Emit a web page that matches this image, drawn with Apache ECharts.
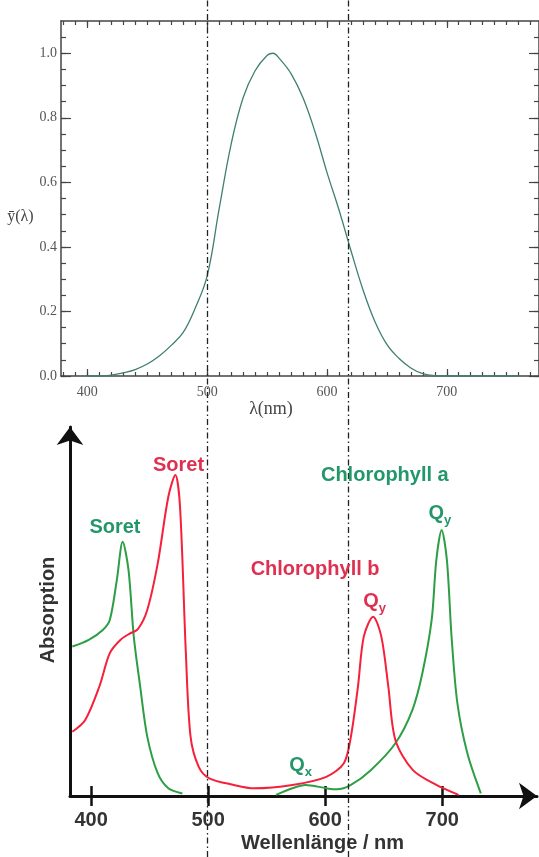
<!DOCTYPE html>
<html>
<head>
<meta charset="utf-8">
<script src="https://cdn.jsdelivr.net/npm/echarts@6/dist/echarts.min.js"></script>
<style>
  html, body { margin: 0; padding: 0; background: #fff; }
  #chart { width: 539px; height: 857px; }
</style>
</head>
<body>
<div id="chart"></div>
<script>
// Hellempfindlichkeitskurve (oben)
var lumWavelength = [400, 410, 420, 430, 440, 450, 460, 470, 480, 490, 500, 510, 520, 530, 540, 550, 555, 560, 570, 580, 590, 600, 610, 620, 630, 640, 650, 660, 670, 680, 690, 700, 720, 740, 760];
var lumValue = [0, 0, 0.003, 0.01, 0.02, 0.037, 0.062, 0.095, 0.135, 0.21, 0.31, 0.518, 0.718, 0.862, 0.946, 0.993, 1.0, 0.985, 0.937, 0.862, 0.757, 0.631, 0.515, 0.389, 0.268, 0.169, 0.098, 0.055, 0.025, 0.007, 0.001, 0, 0, 0, 0];

// Absorptionsspektren (unten)
var chlAWavelength = [384, 398, 410, 416, 422, 427, 432, 436.5, 442, 448, 457, 466, 478, 520, 558, 572, 583, 601, 610, 622, 639, 660, 674.5, 683, 691, 695, 699.5, 704, 708, 713, 721.5, 733];
var chlAAbs = [40.5, 42.3, 45, 47.7, 58.5, 68.9, 61.2, 43.2, 29.6, 16.1, 6.1, 2.1, 0.7, null, 0.3, 2.1, 3, 2.1, 1.8, 3, 7, 14.3, 23.3, 33.2, 47.7, 64, 72.1, 64, 43.2, 25.1, 11.6, 0.7];
var chlBWavelength = [384, 395, 407, 416, 425, 433, 440, 448, 457, 466, 472, 476, 481, 485, 492, 501, 522, 539, 572, 601, 616, 622, 628, 633, 641, 648, 654, 660, 675, 695, 714];
var chlBAbs = [17.4, 20.6, 29.6, 38.7, 42.3, 44, 45.2, 50.4, 63.1, 81.1, 87, 78.4, 38.7, 16.1, 7.9, 4.8, 3, 2.1, 3, 5.2, 8.9, 16.1, 29.6, 43.2, 48.6, 43.2, 29.6, 15.2, 7, 3, 0.3];

// Achsen
var topTickLabels = [400, 500, 600, 700];
var topYTickLabels = [0, 0.2, 0.4, 0.6, 0.8, 1.0];
var bottomTickLabels = [400, 500, 600, 700];
var markWavelengths = [500, 618];

var SERIF = '"Liberation Serif", "DejaVu Serif", serif';
var SANS = '"Liberation Sans", Arial, sans-serif';
var GREEN_LINE = '#2c9e44';
var RED_LINE = '#f5203a';
var GREEN_TEXT = '#23976a';
var RED_TEXT = '#de3152';

function pairs(xs, ys) {
	return xs.map(function (x, i) { return [x, ys[i] === null ? '-' : ys[i]]; });
}

// Nebenstriche
var minorX = [];
for (var v = 380; v <= 770; v += 10) minorX.push(v);
var minorY = [];
for (var k = 0; k <= 21; k++) minorY.push(+(k * 0.05).toFixed(2));

// grid 0 = Hauptstriche, grid 3 = Nebenstriche (gleiche Lage)
function frameX(grid, pos, major, withLabels) {
	return {
		gridIndex: grid, type: 'value', position: pos, min: 378, max: 777,
		axisLine: { show: major, onZero: false, lineStyle: { color: '#444', width: 1.5 } },
		axisTick: { show: true, inside: true, length: major ? 7 : 4, customValues: major ? topTickLabels : minorX, lineStyle: { color: '#444', width: 1.2 } },
		axisLabel: withLabels ? { show: true, customValues: topTickLabels, fontFamily: SERIF, fontSize: 14, color: '#555', margin: 9 } : { show: false },
		splitLine: { show: false }
	};
}
function frameY(grid, pos, major, withLabels) {
	return {
		gridIndex: grid, type: 'value', position: pos, min: 0, max: 1.1,
		axisLine: { show: major, onZero: false, lineStyle: { color: '#444', width: 1.5 } },
		axisTick: { show: true, inside: true, length: major ? 10 : 5, customValues: major ? topYTickLabels : minorY, lineStyle: { color: '#444', width: 1.2 } },
		axisLabel: withLabels ? { show: true, customValues: topYTickLabels, fontFamily: SERIF, fontSize: 14, color: '#555', margin: 4, formatter: function (v) { return v.toFixed(1); } } : { show: false },
		splitLine: { show: false }
	};
}

var xTopMain = frameX(0, 'bottom', true, true);
xTopMain.name = 'λ(nm)';
xTopMain.nameLocation = 'middle';
xTopMain.nameGap = 18;
xTopMain.nameTextStyle = { fontFamily: SERIF, fontSize: 18, color: '#444', padding: [0, 58, 0, 0] };

var yTopMain = frameY(0, 'left', true, true);
yTopMain.name = 'ȳ(λ)';
yTopMain.nameLocation = 'middle';
yTopMain.nameRotate = 0;
yTopMain.nameGap = 19;
yTopMain.nameTextStyle = { fontFamily: SERIF, fontSize: 16, color: '#444', verticalAlign: 'top', padding: [10, 0, 0, 0] };

function note(x, y, text, color) {
	return { coord: [x, y], label: { formatter: text, color: color } };
}
var qRich = {
	q: { fontFamily: SANS, fontWeight: 'bold', fontSize: 20, lineHeight: 24 },
	s: { fontFamily: SANS, fontWeight: 'bold', fontSize: 13, padding: [14, 0, 0, 0], lineHeight: 24 }
};
function notes(items, color) {
	return {
		symbol: 'rect', symbolSize: 1, silent: true,
		itemStyle: { color: 'rgba(0,0,0,0)' },
		label: { show: true, position: 'inside', fontFamily: SANS, fontWeight: 'bold', fontSize: 20, color: color, rich: qRich },
		data: items
	};
}

var bottomGridPos = { left: 70, right: 2, top: 427, bottom: 61 };
var topGridPos = { left: 61, right: -1, top: 21, bottom: 481 };

var myChart = echarts.init(document.getElementById('chart'), null, { renderer: 'canvas' });
var option = {
	animation: false,
	backgroundColor: '#fff',
	grid: [
		topGridPos,
		bottomGridPos,
		{ left: 61, right: -1, top: 0, bottom: 0 },
		topGridPos,
		bottomGridPos
	],
	xAxis: [
		xTopMain,
		frameX(3, 'bottom', false, false),
		frameX(0, 'top', true, false),
		frameX(3, 'top', false, false),
		{
			gridIndex: 1, type: 'value', position: 'bottom', min: 382, max: 781,
			axisLine: { show: true, onZero: false, symbol: ['none', 'arrow'], symbolSize: [20, 18], lineStyle: { color: '#111', width: 3 } },
			axisTick: { show: true, inside: false, length: 10, customValues: bottomTickLabels, lineStyle: { color: '#111', width: 2.5 } },
			axisLabel: { show: true, customValues: bottomTickLabels, fontFamily: SANS, fontWeight: 'bold', fontSize: 20, color: '#333', margin: 14 },
			splitLine: { show: false },
			name: 'Wellenlänge / nm', nameLocation: 'middle', nameGap: 37,
			nameTextStyle: { fontFamily: SANS, fontWeight: 'bold', fontSize: 20, color: '#333', padding: [0, 0, 0, 38] }
		},
		{
			gridIndex: 4, type: 'value', position: 'bottom', min: 382, max: 781,
			axisLine: { show: false, onZero: false },
			axisTick: { show: true, inside: true, length: 10, customValues: bottomTickLabels, lineStyle: { color: '#111', width: 2.5 } },
			axisLabel: { show: false }, splitLine: { show: false }
		},
		{ gridIndex: 2, type: 'value', min: 378, max: 777, show: false }
	],
	yAxis: [
		yTopMain,
		frameY(3, 'left', false, false),
		frameY(0, 'right', true, false),
		frameY(3, 'right', false, false),
		{
			gridIndex: 1, type: 'value', min: 0, max: 100,
			axisLine: { show: true, onZero: false, symbol: ['none', 'arrow'], symbolSize: [20, 18], lineStyle: { color: '#111', width: 3 } },
			axisTick: { show: false }, axisLabel: { show: false }, splitLine: { show: false },
			name: 'Absorption', nameLocation: 'middle', nameGap: 12,
			nameTextStyle: { fontFamily: SANS, fontWeight: 'bold', fontSize: 20, color: '#333', padding: [0, 0, 0, 3] }
		},
		{ gridIndex: 2, type: 'value', min: 0, max: 1, show: false },
		{ gridIndex: 4, type: 'value', min: 0, max: 100, show: false }
	],
	series: [
		{
			type: 'line', xAxisIndex: 0, yAxisIndex: 0,
			data: pairs(lumWavelength, lumValue),
			smooth: 0.4, showSymbol: false,
			lineStyle: { color: '#3f7f72', width: 1.3 }
		},
		{
			type: 'line', xAxisIndex: 4, yAxisIndex: 4,
			data: pairs(chlAWavelength, chlAAbs),
			smooth: 0.3, showSymbol: false, connectNulls: false,
			lineStyle: { color: GREEN_LINE, width: 2 },
			markPoint: notes([
				note(420.4, 72.8, 'Soret', GREEN_TEXT),
				note(651, 86.8, 'Chlorophyll a', GREEN_TEXT),
				note(698, 76.6, '{q|Q}{s|y}', GREEN_TEXT),
				note(579, 8.4, '{q|Q}{s|x}', GREEN_TEXT)
			], GREEN_TEXT)
		},
		{
			type: 'line', xAxisIndex: 4, yAxisIndex: 4,
			data: pairs(chlBWavelength, chlBAbs),
			smooth: 0.3, showSymbol: false,
			lineStyle: { color: RED_LINE, width: 2 },
			markPoint: notes([
				note(474.7, 89.5, 'Soret', RED_TEXT),
				note(591.4, 61.5, 'Chlorophyll b', RED_TEXT),
				note(642.2, 52.7, '{q|Q}{s|y}', RED_TEXT)
			], RED_TEXT)
		},
		{
			type: 'line', xAxisIndex: 6, yAxisIndex: 5,
			data: [[markWavelengths[0], 0]], showSymbol: false,
			markLine: {
				silent: true, symbol: ['none', 'none'],
				label: { show: false },
				lineStyle: { color: '#222', width: 1.3, type: [6, 3, 1.5, 3] },
				data: markWavelengths.map(function (w) { return { xAxis: w }; })
			}
		}
	]
};
myChart.setOption(option);
</script>
</body>
</html>
